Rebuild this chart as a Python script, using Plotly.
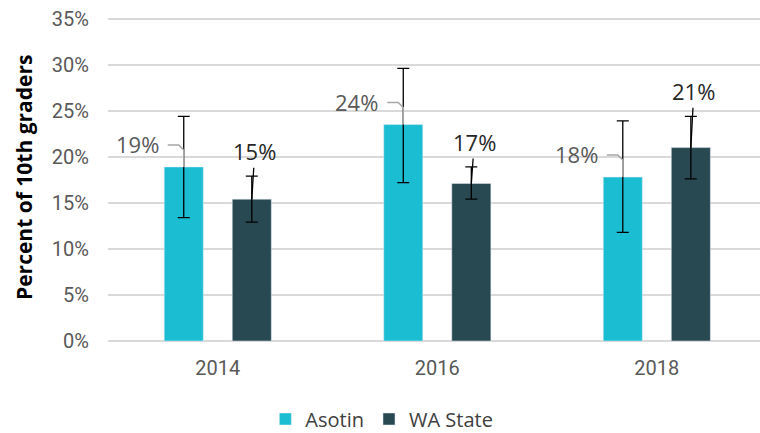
import plotly.graph_objects as go

years = ["2014", "2016", "2018"]
series_names = ["Asotin", "WA State"]
asotin = [18.9, 23.5, 17.8]
asotin_hi = [24.4, 29.6, 23.9]
asotin_lo = [13.4, 17.2, 11.8]
wa = [15.4, 17.1, 21.0]
wa_hi = [17.9, 18.9, 24.4]
wa_lo = [12.9, 15.4, 17.6]
y_ticks = [0, 5, 10, 15, 20, 25, 30, 35]

C_AS = "#1bbdd3"
C_WA = "#284852"
W, H = 760, 433
px_per = 322 / 35
YMAX = 35.4
M_L, M_R, M_B = 108, 0, 92
plot_h = round(YMAX * px_per)
M_T = H - M_B - plot_h

xpos = list(range(len(years)))
bw = 0.178
sep = 0.155

fig = go.Figure()
fig.add_trace(go.Bar(
    x=xpos, y=asotin, name=series_names[0], marker_color=C_AS,
    width=bw, offset=-sep - bw / 2,
    error_y=dict(type="data", symmetric=False,
                 array=[h - v for h, v in zip(asotin_hi, asotin)],
                 arrayminus=[v - l for l, v in zip(asotin_lo, asotin)],
                 color="black", thickness=1.3, width=6),
))
fig.add_trace(go.Bar(
    x=xpos, y=wa, name=series_names[1], marker_color=C_WA,
    width=bw, offset=sep - bw / 2,
    error_y=dict(type="data", symmetric=False,
                 array=[h - v for h, v in zip(wa_hi, wa)],
                 arrayminus=[v - l for l, v in zip(wa_lo, wa)],
                 color="black", thickness=1.3, width=6),
))

annotations = []
shapes = []
lab_font = "Open Sans, Noto Sans, sans-serif"
for i, v in enumerate(asotin):
    xc = i - sep
    annotations.append(dict(
        x=xc, y=v, xref="x", yref="y", text=f"{int(v + 0.5)}%",
        showarrow=False, xanchor="right", yanchor="middle",
        xshift=-23, yshift=23,
        font=dict(family=lab_font, size=22, color="#595959")))
    shapes.append(dict(
        type="path", xref="x", yref="y", xsizemode="pixel", ysizemode="pixel",
        xanchor=xc, yanchor=v,
        path="M -16 22 L -5 22 L 0 17 L 0 0",
        line=dict(color="#a6a6a6", width=1.5)))
for i, v in enumerate(wa):
    xc = i + sep
    off = (wa_hi[i] - v) * px_per + 25
    annotations.append(dict(
        x=xc, y=v, xref="x", yref="y", text=f"{int(v + 0.5)}%",
        showarrow=True, arrowhead=0, arrowwidth=1.3, arrowcolor="black",
        ax=3, ay=-off, standoff=0,
        font=dict(family=lab_font, size=22, color="#262626")))

annotations.append(dict(
    x=(24 - M_L) / (W - M_L - M_R), y=(H - M_B - 178) / plot_h,
    xref="paper", yref="paper",
    text="<b>Percent of 10th graders</b>", textangle=-90, showarrow=False,
    xanchor="center", yanchor="middle",
    font=dict(family=lab_font, size=21, color="black")))

fig.update_layout(
    width=W, height=H,
    margin=dict(l=M_L, r=M_R, t=M_T, b=M_B, autoexpand=False),
    plot_bgcolor="white", paper_bgcolor="white",
    showlegend=True,
    legend=dict(orientation="h", x=0.42, xanchor="center",
                y=(H - M_B - 419) / plot_h, yanchor="middle",
                font=dict(family=lab_font, size=20, color="#404040")),
    annotations=annotations, shapes=shapes,
    xaxis=dict(tickmode="array", tickvals=xpos, ticktext=years,
               range=[-0.5, 2.47], showgrid=False, zeroline=False,
               showline=False, ticks="outside", ticklen=9,
               tickcolor="rgba(0,0,0,0)",
               tickfont=dict(family="Roboto", size=20, color="#595959")),
    yaxis=dict(range=[0, YMAX], tickvals=y_ticks,
               ticktext=[f"{t}%" for t in y_ticks],
               showgrid=True, gridcolor="#d9d9d9", gridwidth=1.5,
               zeroline=True, zerolinecolor="#d9d9d9", zerolinewidth=1.5,
               showline=False, ticks="outside", ticklen=14,
               tickcolor="rgba(0,0,0,0)",
               tickfont=dict(family="Roboto", size=20, color="#595959")),
)

fig.write_html("out.html", config={"displayModeBar": False},
               post_script="document.body.style.margin='0';"
                           "document.body.style.overflow='hidden';")
